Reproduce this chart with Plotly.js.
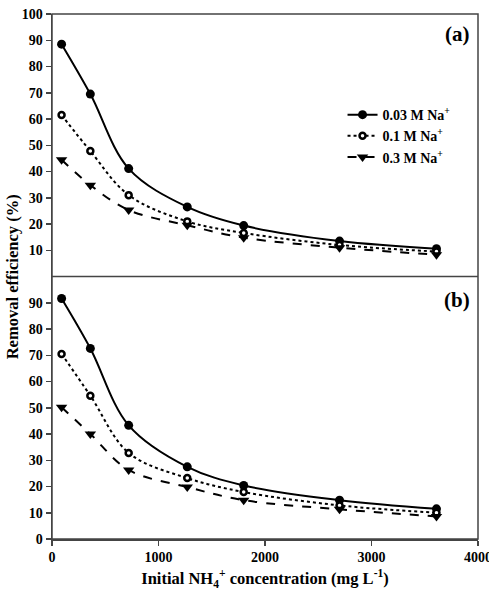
<!DOCTYPE html>
<html><head><meta charset="utf-8">
<script src="https://cdn.plot.ly/plotly-3.0.1.min.js"></script>
<style>html,body{margin:0;padding:0;background:#fff}#chart{width:489px;height:593px}</style>
</head><body><div id="chart"></div>
<script>
const conc = [90, 360, 720, 1270, 1800, 2700, 3610];
const seriesNames = ['0.03 M Na<sup>+</sup>', '0.1 M Na<sup>+</sup>', '0.3 M Na<sup>+</sup>'];
// panel (a)
const a_003 = [88.5, 69.5, 41.1, 26.5, 19.4, 13.5, 10.6];
const a_01  = [61.5, 47.8, 31.0, 21.0, 16.6, 12.0, 9.5];
const a_03  = [44.5, 34.8, 25.3, 19.5, 14.8, 11.0, 8.3];
// panel (b)
const b_003 = [91.6, 72.6, 43.3, 27.5, 20.4, 14.8, 11.5];
const b_01  = [70.5, 54.6, 32.8, 23.2, 17.9, 12.8, 10.0];
const b_03  = [50.2, 40.0, 26.3, 19.8, 14.8, 11.3, 8.6];
const xTicks = [0, 1000, 2000, 3000, 4000];
const yTicksTop = [10, 20, 30, 40, 50, 60, 70, 80, 90, 100];
const yTicksBottom = [0, 10, 20, 30, 40, 50, 60, 70, 80, 90];

const FONT = 'Liberation Serif, Times New Roman, serif';
const styles = [
  {line: {color: '#000', width: 2, dash: 'solid', shape: 'spline', smoothing: 1}, marker: {symbol: 'circle', size: 9, color: '#000'}},
  {line: {color: '#000', width: 2, dash: 'dot', shape: 'spline', smoothing: 1}, marker: {symbol: 'circle', size: 6, color: '#fff', line: {color: '#000', width: 2.5}}},
  {line: {color: '#000', width: 2, dash: 'dash', shape: 'spline', smoothing: 1}, marker: {symbol: 'triangle-down', size: 10, color: '#000'}}
];
const topData = [a_003, a_01, a_03];
const botData = [b_003, b_01, b_03];
const traces = [];
topData.forEach((ys, i) => traces.push(Object.assign({
  x: conc, y: ys, type: 'scatter', mode: 'lines+markers', name: seriesNames[i],
  xaxis: 'x', yaxis: 'y2', showlegend: true, cliponaxis: false
}, JSON.parse(JSON.stringify(styles[i])))));
botData.forEach((ys, i) => traces.push(Object.assign({
  x: conc, y: ys, type: 'scatter', mode: 'lines+markers', name: seriesNames[i],
  xaxis: 'x', yaxis: 'y', showlegend: false, cliponaxis: false
}, JSON.parse(JSON.stringify(styles[i])))));

const tickFont = {family: FONT, size: 14, color: '#000', weight: 'bold'};
const layout = {
  width: 489, height: 593,
  margin: {l: 52, r: 11, t: 14, b: 54},
  paper_bgcolor: '#fff', plot_bgcolor: '#fff',
  showlegend: true,
  legend: {x: 0.682, y: 0.838, xanchor: 'left', yanchor: 'top', bgcolor: 'rgba(0,0,0,0)',
           font: {family: FONT, size: 14, color: '#000', weight: 'bold'}, itemwidth: 30, tracegroupgap: 0},
  xaxis: {range: [0, 4000], tickvals: xTicks, ticks: 'outside', ticklen: 5, tickwidth: 1.5, tickcolor: '#444',
          showline: true, linecolor: '#444', linewidth: 1.5, showgrid: false, zeroline: false,
          tickfont: tickFont, anchor: 'y', ticklabeloverflow: 'allow',
          title: {text: 'Initial NH<sub>4</sub><sup>+</sup> concentration (mg L<sup>-1</sup>)', font: {family: FONT, size: 16.5, color: '#000', weight: 'bold'}, standoff: 8}},
  yaxis: {domain: [0, 0.5], range: [0, 100], tickvals: yTicksBottom, ticks: 'outside', ticklen: 5, tickwidth: 1.5, tickcolor: '#444',
          showline: true, linecolor: '#444', linewidth: 1.5, showgrid: false, zeroline: false, tickfont: tickFont, anchor: 'x'},
  yaxis2: {domain: [0.5, 1], range: [0, 100], tickvals: yTicksTop, ticks: 'outside', ticklen: 5, tickwidth: 1.5, tickcolor: '#444',
          showline: true, linecolor: '#444', linewidth: 1.5, showgrid: false, zeroline: false, tickfont: tickFont, anchor: 'x'},
  shapes: [
    {type: 'rect', xref: 'paper', yref: 'paper', x0: 0, x1: 1, y0: 0, y1: 1, line: {color: '#444', width: 1.5}},
    {type: 'line', xref: 'paper', yref: 'paper', x0: 0, x1: 1, y0: 0.5, y1: 0.5, line: {color: '#444', width: 1.5}}
  ],
  annotations: [
    {text: '(a)', xref: 'paper', yref: 'paper', x: 0.985, y: 0.988, xanchor: 'right', yanchor: 'top', showarrow: false,
     font: {family: FONT, size: 21, color: '#000', weight: 'bold'}},
    {text: '(b)', xref: 'paper', yref: 'paper', x: 0.985, y: 0.482, xanchor: 'right', yanchor: 'top', showarrow: false,
     font: {family: FONT, size: 21, color: '#000', weight: 'bold'}},
    {text: 'Removal efficiency (%)', xref: 'paper', yref: 'paper', x: -0.092, y: 0.5, xanchor: 'center', yanchor: 'middle',
     textangle: -90, showarrow: false, font: {family: FONT, size: 16.5, color: '#000', weight: 'bold'}}
  ]
};
Plotly.newPlot('chart', traces, layout, {displayModeBar: false, staticPlot: true});
</script></body></html>
